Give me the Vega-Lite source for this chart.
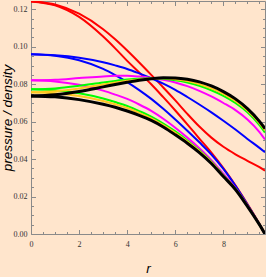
{
  "$schema": "https://vega.github.io/schema/vega-lite/v6.json",
  "width": 234,
  "height": 233,
  "autosize": {"type": "none"},
  "padding": {"left": 31, "top": 1, "right": 1, "bottom": 43},
  "background": "#FFE5CC",
  "config": {
    "view": {"stroke": null},
    "axis": {
      "grid": false,
      "domainColor": "#8a8a8a",
      "tickColor": "#8a8a8a",
      "labelColor": "#333333",
      "labelFont": "Liberation Sans Narrow",
      "labelFontSize": 8,
      "titleFont": "Liberation Sans",
      "titleFontSize": 13.5,
      "titleFontStyle": "italic",
      "titleFontWeight": "normal",
      "titleColor": "#000000"
    }
  },
  "data": {
    "values": [
      {"r": 0, "rP": 0.1243, "rD": 0.1243, "bP": 0.0960, "bD": 0.0960, "mP": 0.0821, "mD": 0.0821, "gP": 0.0773, "gD": 0.0773, "yP": 0.0757, "yD": 0.0757, "kP": 0.0738, "kD": 0.0738},
      {"r": 1, "rP": 0.1222, "rD": 0.1226, "bP": 0.0952, "bD": 0.0955, "mP": 0.0815, "mD": 0.0824, "gP": 0.0768, "gD": 0.0778, "yP": 0.0752, "yD": 0.0763, "kP": 0.0733, "kD": 0.0744},
      {"r": 2, "rP": 0.1160, "rD": 0.1177, "bP": 0.0928, "bD": 0.0942, "mP": 0.0797, "mD": 0.0833, "gP": 0.0752, "gD": 0.0792, "yP": 0.0737, "yD": 0.0778, "kP": 0.0718, "kD": 0.0761},
      {"r": 3, "rP": 0.1055, "rD": 0.1094, "bP": 0.0882, "bD": 0.0918, "mP": 0.0766, "mD": 0.0842, "gP": 0.0724, "gD": 0.0810, "yP": 0.0711, "yD": 0.0799, "kP": 0.0693, "kD": 0.0786},
      {"r": 3.5, "rP": 0.0992, "rD": 0.1040, "bP": 0.0849, "bD": 0.0901, "mP": 0.0745, "mD": 0.0845, "gP": 0.0705, "gD": 0.0818, "yP": 0.0693, "yD": 0.0809, "kP": 0.0677, "kD": 0.0799},
      {"r": 4, "rP": 0.0925, "rD": 0.0980, "bP": 0.0812, "bD": 0.0882, "mP": 0.0722, "mD": 0.0845, "gP": 0.0684, "gD": 0.0825, "yP": 0.0673, "yD": 0.0819, "kP": 0.0657, "kD": 0.0811},
      {"r": 4.5, "rP": 0.0863, "rD": 0.0916, "bP": 0.0769, "bD": 0.0858, "mP": 0.0692, "mD": 0.0841, "gP": 0.0657, "gD": 0.0830, "yP": 0.0647, "yD": 0.0826, "kP": 0.0634, "kD": 0.0822},
      {"r": 5, "rP": 0.0800, "rD": 0.0850, "bP": 0.0722, "bD": 0.0832, "mP": 0.0658, "mD": 0.0834, "gP": 0.0627, "gD": 0.0832, "yP": 0.0618, "yD": 0.0831, "kP": 0.0607, "kD": 0.0830},
      {"r": 5.5, "rP": 0.0731, "rD": 0.0783, "bP": 0.0669, "bD": 0.0803, "mP": 0.0616, "mD": 0.0824, "gP": 0.0590, "gD": 0.0830, "yP": 0.0582, "yD": 0.0832, "kP": 0.0572, "kD": 0.0835},
      {"r": 6, "rP": 0.0660, "rD": 0.0714, "bP": 0.0612, "bD": 0.0770, "mP": 0.0568, "mD": 0.0810, "gP": 0.0548, "gD": 0.0822, "yP": 0.0541, "yD": 0.0827, "kP": 0.0530, "kD": 0.0834},
      {"r": 6.5, "rP": 0.0586, "rD": 0.0642, "bP": 0.0552, "bD": 0.0732, "mP": 0.0515, "mD": 0.0790, "gP": 0.0500, "gD": 0.0810, "yP": 0.0494, "yD": 0.0817, "kP": 0.0485, "kD": 0.0827},
      {"r": 7, "rP": 0.0510, "rD": 0.0574, "bP": 0.0490, "bD": 0.0692, "mP": 0.0458, "mD": 0.0765, "gP": 0.0447, "gD": 0.0792, "yP": 0.0443, "yD": 0.0801, "kP": 0.0435, "kD": 0.0813},
      {"r": 7.5, "rP": 0.0435, "rD": 0.0515, "bP": 0.0425, "bD": 0.0650, "mP": 0.0395, "mD": 0.0735, "gP": 0.0386, "gD": 0.0768, "yP": 0.0383, "yD": 0.0778, "kP": 0.0377, "kD": 0.0791},
      {"r": 8, "rP": 0.0352, "rD": 0.0466, "bP": 0.0348, "bD": 0.0605, "mP": 0.0322, "mD": 0.0700, "gP": 0.0314, "gD": 0.0738, "yP": 0.0312, "yD": 0.0749, "kP": 0.0307, "kD": 0.0761},
      {"r": 8.5, "rP": 0.0260, "rD": 0.0426, "bP": 0.0258, "bD": 0.0558, "mP": 0.0245, "mD": 0.0662, "gP": 0.0242, "gD": 0.0700, "yP": 0.0241, "yD": 0.0711, "kP": 0.0238, "kD": 0.0722},
      {"r": 9, "rP": 0.0160, "rD": 0.0391, "bP": 0.0158, "bD": 0.0508, "mP": 0.0153, "mD": 0.0612, "gP": 0.0150, "gD": 0.0650, "yP": 0.0149, "yD": 0.0660, "kP": 0.0148, "kD": 0.0670},
      {"r": 9.5, "rP": 0.0053, "rD": 0.0357, "bP": 0.0052, "bD": 0.0460, "mP": 0.0051, "mD": 0.0545, "gP": 0.0050, "gD": 0.0582, "yP": 0.0050, "yD": 0.0592, "kP": 0.0050, "kD": 0.0602},
      {"r": 9.73, "rP": 0, "rD": 0.0338, "bP": 0, "bD": 0.0437, "mP": 0, "mD": 0.0505, "gP": 0, "gD": 0.0542, "yP": 0, "yD": 0.0553, "kP": 0, "kD": 0.0563}
    ]
  },
  "transform": [
    {"fold": ["rP", "rD", "bP", "bD", "mP", "mD", "gP", "gD", "yP", "yD", "kP", "kD"], "as": ["series", "v"]}
  ],
  "layer": [
    {
      "transform": [{"filter": "datum.series != 'kP' && datum.series != 'kD'"}],
      "mark": {"type": "line", "interpolate": "monotone", "strokeWidth": 2, "clip": true},
      "encoding": {
        "x": {
          "field": "r", "type": "quantitative",
          "scale": {"domain": [0, 9.73], "nice": false, "zero": false},
          "axis": {
            "orient": "bottom",
            "title": "r",
            "titleX": 117, "titleY": 34, "titleBaseline": "middle",
            "values": [0, 0.5, 1, 1.5, 2, 2.5, 3, 3.5, 4, 4.5, 5, 5.5, 6, 6.5, 7, 7.5, 8, 8.5, 9, 9.5],
            "labelExpr": "datum.value % 2 == 0 ? toString(datum.value) : ''",
            "tickSize": {"condition": {"test": "datum.value % 2 == 0", "value": -4.5}, "value": -2.5},
            "labelPadding": 10.5,
            "labelFlush": false,
            "labelOverlap": false
          }
        },
        "y": {
          "field": "v", "type": "quantitative",
          "scale": {"domain": [0, 0.1245], "nice": false, "zero": false},
          "axis": {
            "orient": "left",
            "title": "pressure / density",
            "titleX": -24, "titleY": 116.5, "titleAlign": "center", "titleBaseline": "middle", "titleAngle": -90,
            "values": [0, 0.005, 0.01, 0.015, 0.02, 0.025, 0.03, 0.035, 0.04, 0.045, 0.05, 0.055, 0.06, 0.065, 0.07, 0.075, 0.08, 0.085, 0.09, 0.095, 0.1, 0.105, 0.11, 0.115, 0.12],
            "labelExpr": "abs(datum.value / 0.02 - round(datum.value / 0.02)) < 0.001 ? format(datum.value, '.2f') : ''",
            "tickSize": {"condition": {"test": "abs(datum.value / 0.02 - round(datum.value / 0.02)) < 0.001", "value": -4.5}, "value": -2.5},
            "labelPadding": 8.5,
            "labelFlush": false,
            "labelOverlap": false
          }
        },
        "color": {
          "field": "series", "type": "nominal", "legend": null,
          "scale": {
            "domain": ["rP", "rD", "bP", "bD", "mP", "mD", "gP", "gD", "yP", "yD"],
            "range": ["#FF0000", "#FF0000", "#0000FF", "#0000FF", "#FF00FF", "#FF00FF", "#00FF00", "#00FF00", "#FFC820", "#FFC820"]
          }
        }
      }
    },
    {
      "transform": [{"filter": "datum.series == 'kP' || datum.series == 'kD'"}],
      "mark": {"type": "line", "interpolate": "monotone", "strokeWidth": 3, "color": "#000000", "clip": true},
      "encoding": {
        "x": {
          "field": "r", "type": "quantitative",
          "axis": {
            "orient": "top",
            "title": null,
            "labels": false,
            "values": [0, 0.5, 1, 1.5, 2, 2.5, 3, 3.5, 4, 4.5, 5, 5.5, 6, 6.5, 7, 7.5, 8, 8.5, 9, 9.5],
            "tickSize": {"condition": {"test": "datum.value % 2 == 0", "value": -4.5}, "value": -2.5}
          }
        },
        "y": {
          "field": "v", "type": "quantitative",
          "axis": {
            "orient": "right",
            "title": null,
            "labels": false,
            "values": [0, 0.005, 0.01, 0.015, 0.02, 0.025, 0.03, 0.035, 0.04, 0.045, 0.05, 0.055, 0.06, 0.065, 0.07, 0.075, 0.08, 0.085, 0.09, 0.095, 0.1, 0.105, 0.11, 0.115, 0.12],
            "tickSize": {"condition": {"test": "abs(datum.value / 0.02 - round(datum.value / 0.02)) < 0.001", "value": -4.5}, "value": -2.5}
          }
        },
        "detail": {"field": "series", "type": "nominal"}
      }
    }
  ],
  "resolve": {"axis": {"x": "independent", "y": "independent"}}
}
